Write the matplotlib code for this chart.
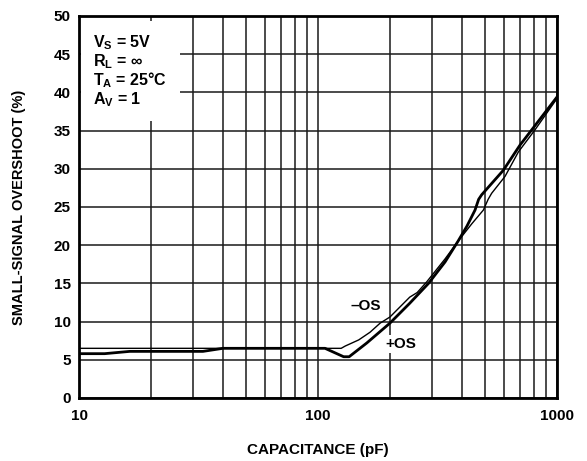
import numpy as np
import matplotlib.pyplot as plt
from matplotlib.ticker import FixedLocator, NullFormatter

plt.rcParams['font.family'] = ['Liberation Sans', 'DejaVu Sans']
plt.rcParams['font.weight'] = 'bold'
plt.rcParams['mathtext.fontset'] = 'custom'
plt.rcParams['mathtext.rm'] = 'Liberation Sans:bold'
plt.rcParams['mathtext.it'] = 'Liberation Sans:bold'
plt.rcParams['mathtext.bf'] = 'Liberation Sans:bold'
plt.rcParams['mathtext.default'] = 'rm'

# -OS (thin line)
neg_c = [10, 125, 130, 148, 165, 182, 200, 220, 242, 260, 285, 340, 385, 440, 492, 515, 533, 606, 689, 809, 1000]
neg_os = [6.5, 6.5, 6.8, 7.6, 8.6, 9.8, 10.6, 11.9, 13.2, 13.8, 15.2, 18.2, 20.5, 22.8, 24.6, 26.0, 26.8, 29.0, 32.2, 35.1, 39.2]

# +OS (thick line)
pos_c = [10, 12.8, 16.3, 33, 40, 107, 128, 135, 160, 200, 242, 290, 340, 385, 420, 454, 470, 484, 596, 700, 1000]
pos_os = [5.8, 5.8, 6.1, 6.1, 6.5, 6.5, 5.4, 5.4, 7.2, 9.8, 12.4, 15.0, 17.8, 20.5, 22.5, 24.6, 26.0, 26.6, 29.8, 33.1, 39.4]

conditions = ['V$_{S}$ = 5V', 'R$_{L}$ = \u221e', 'T$_{A}$ = 25\u00b0C', 'A$_{V}$ = 1']

fig = plt.figure(figsize=(5.87, 4.61), dpi=100)
ax = fig.add_axes([0.1346, 0.1367, 0.8143, 0.8286])

ax.set_xscale('log')
ax.set_xlim(10, 1000)
ax.set_ylim(0, 50)

major_x = [10, 100, 1000]
minor_x = [m * d for d in (10, 100) for m in range(2, 10)]
ax.xaxis.set_major_locator(FixedLocator(major_x))
ax.xaxis.set_minor_locator(FixedLocator(minor_x))
ax.xaxis.set_minor_formatter(NullFormatter())
ax.set_xticklabels(['10', '100', '1000'])
ax.set_yticks(np.arange(0, 51, 5))

ax.set_axisbelow(True)
ax.grid(True, which='both', color='#1a1a1a', linewidth=1.1)
ax.tick_params(which='both', length=0, labelsize=11, pad=6)
ax.tick_params(axis='x', pad=8)
for lab in ax.get_xticklabels() + ax.get_yticklabels():
    lab.set_fontweight('bold')
for s in ax.spines.values():
    s.set_linewidth(2)
    s.set_color('black')

ax.plot(neg_c, neg_os, color='black', linewidth=1.0)
ax.plot(pos_c, pos_os, color='black', linewidth=2.0)

ax.text(159, 12.0, '\u2013OS', fontsize=11, fontweight='bold', ha='center', va='center',
        bbox=dict(facecolor='white', edgecolor='none', pad=1.5))
ax.text(222, 7.07, '+OS', fontsize=11, fontweight='bold', ha='center', va='center',
        bbox=dict(facecolor='white', edgecolor='none', pad=1.5))

ax.text(0.03, 0.955, '\n'.join(conditions), transform=ax.transAxes, fontsize=11.5,
        fontweight='bold', ha='left', va='top', linespacing=1.0,
        bbox=dict(facecolor='white', edgecolor='none', pad=9))

ax.set_xlabel('CAPACITANCE (pF)', fontsize=11, fontweight='bold', labelpad=14)
ax.set_ylabel('SMALL-SIGNAL OVERSHOOT (%)', fontsize=10.5, fontweight='bold', labelpad=20)

fig.savefig('out.png', dpi=100)
